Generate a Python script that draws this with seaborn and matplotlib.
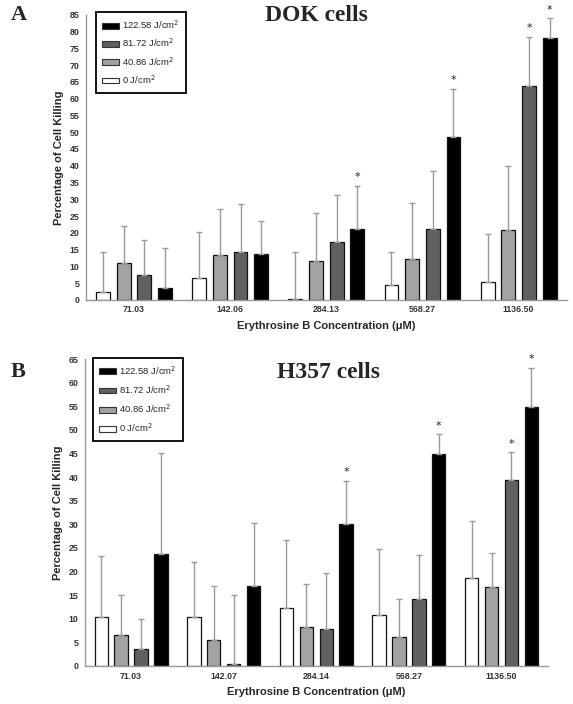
import pandas as pd
import matplotlib
matplotlib.use('Agg')
import matplotlib.pyplot as plt
import matplotlib.patches as mpatches
import seaborn as sns

# Dose levels (hue), in drawing order
doses = ['0 J/cm$^2$', '40.86 J/cm$^2$', '81.72 J/cm$^2$', '122.58 J/cm$^2$']
dose_colors = ['#ffffff', '#a2a2a6', '#606062', '#000000']

# Panel A - DOK cells
dok_conc = ['71.03', '142.06', '284.13', '568.27', '1136.50']
dok_mean = {
    '0 J/cm$^2$':      [2.4, 6.6, 0.2, 4.4, 5.3],
    '40.86 J/cm$^2$':  [10.9, 13.5, 11.5, 12.1, 20.7],
    '81.72 J/cm$^2$':  [7.3, 14.2, 17.2, 21.2, 63.9],
    '122.58 J/cm$^2$': [3.5, 13.6, 21.0, 48.6, 78.2],
}
dok_upper = {
    '0 J/cm$^2$':      [14.4, 20.1, 14.2, 14.3, 19.7],
    '40.86 J/cm$^2$':  [21.9, 27.0, 25.9, 28.9, 39.9],
    '81.72 J/cm$^2$':  [18.0, 28.6, 31.3, 38.5, 78.5],
    '122.58 J/cm$^2$': [15.6, 23.5, 34.1, 63.0, 83.9],
}
dok_star = {
    '0 J/cm$^2$':      [0, 0, 0, 0, 0],
    '40.86 J/cm$^2$':  [0, 0, 0, 0, 0],
    '81.72 J/cm$^2$':  [0, 0, 0, 0, 1],
    '122.58 J/cm$^2$': [0, 0, 1, 1, 1],
}

# Panel B - H357 cells
h357_conc = ['71.03', '142.07', '284.14', '568.27', '1136.50']
h357_mean = {
    '0 J/cm$^2$':      [10.4, 10.4, 12.3, 10.7, 18.7],
    '40.86 J/cm$^2$':  [6.5, 5.6, 8.3, 6.1, 16.8],
    '81.72 J/cm$^2$':  [3.7, 0.35, 7.85, 14.2, 39.4],
    '122.58 J/cm$^2$': [23.8, 17.0, 30.1, 44.8, 54.9],
}
h357_upper = {
    '0 J/cm$^2$':      [23.3, 22.1, 26.7, 24.8, 30.6],
    '40.86 J/cm$^2$':  [15.1, 17.0, 17.4, 14.2, 24.0],
    '81.72 J/cm$^2$':  [10.0, 15.1, 19.7, 23.4, 45.3],
    '122.58 J/cm$^2$': [45.1, 30.2, 39.2, 49.1, 63.2],
}
h357_star = {
    '0 J/cm$^2$':      [0, 0, 0, 0, 0],
    '40.86 J/cm$^2$':  [0, 0, 0, 0, 0],
    '81.72 J/cm$^2$':  [0, 0, 0, 0, 1],
    '122.58 J/cm$^2$': [0, 0, 1, 1, 1],
}

SANS = 'Liberation Sans'
SERIF = 'Liberation Serif'


def to_frame(conc, mean):
    rows = []
    for d in doses:
        for c, v in zip(conc, mean[d]):
            rows.append({'Concentration': c, 'Dose': d, 'Value': v})
    return pd.DataFrame(rows)


def draw_panel(ax, conc, mean, upper, star, ymax, legend_anchor, spacing):
    df = to_frame(conc, mean)
    sns.barplot(data=df, x='Concentration', y='Value', hue='Dose',
                order=conc, hue_order=doses,
                palette=dict(zip(doses, dose_colors)),
                width=0.86, gap=0.33, edgecolor='#111111', linewidth=0.9,
                errorbar=None, legend=False, ax=ax)

    # upper-only error bars and significance stars
    for d, container in zip(doses, ax.containers):
        xs = [b.get_x() + b.get_width() / 2 for b in container]
        ys = [b.get_height() for b in container]
        errs = [u - m for u, m in zip(upper[d], ys)]
        ax.errorbar(xs, ys, yerr=[[0] * len(ys), errs], fmt='none',
                    ecolor='#9a9a9a', elinewidth=1.0, capsize=2.5,
                    capthick=1.0, zorder=1)
        for x, u, s in zip(xs, upper[d], star[d]):
            if s:
                ax.annotate('*', (x, u), xytext=(0, 2.5), textcoords='offset points',
                            ha='center', va='bottom', fontsize=8, color='#222222')

    ax.set_xlim(-0.5, len(conc) - 0.5)
    ax.set_ylim(0, ymax)
    ax.set_yticks(range(0, ymax + 1, 5))
    ax.set_xlabel('Erythrosine B Concentration (μM)', fontsize=8,
                  fontweight='bold', family=SANS, labelpad=5)
    ax.set_ylabel('Percentage of Cell Killing', fontsize=8,
                  fontweight='bold', family=SANS, labelpad=4)
    for lab in ax.get_xticklabels() + ax.get_yticklabels():
        lab.set_fontsize(6.3)
        lab.set_fontweight('bold')
        lab.set_family(SANS)
        lab.set_color('#333333')
    ax.tick_params(axis='y', length=3, width=0.8, color='#888888', pad=1.5)
    ax.tick_params(axis='x', length=0, pad=4)
    for side in ['top', 'right']:
        ax.spines[side].set_visible(False)
    for side in ['left', 'bottom']:
        ax.spines[side].set_color('#999999')
        ax.spines[side].set_linewidth(1.0)

    handles = [mpatches.Patch(facecolor=c, edgecolor='#333333', linewidth=0.8, label=d)
               for d, c in zip(doses, dose_colors)][::-1]
    leg = ax.legend(handles=handles, loc='upper left', bbox_to_anchor=legend_anchor,
                    borderaxespad=0, fancybox=False, framealpha=1,
                    edgecolor='black', handlelength=1.8, handleheight=0.55,
                    handletextpad=0.3, labelspacing=spacing, borderpad=0.7,
                    prop={'family': SANS, 'size': 6.8})
    leg.get_frame().set_linewidth(1.3)


sns.set_style('white')
fig = plt.figure(figsize=(5.73, 7.04), dpi=100)
ax1 = fig.add_axes([0.150, 0.574, 0.839, 0.405])
ax2 = fig.add_axes([0.148, 0.054, 0.808, 0.436])

draw_panel(ax1, dok_conc, dok_mean, dok_upper, dok_star, 85, (0.02, 1.01), 0.6)
draw_panel(ax2, h357_conc, h357_mean, h357_upper, h357_star, 65, (0.017, 1.005), 0.7)

fig.text(0.552, 0.978, 'DOK cells', ha='center', va='center', fontsize=17,
         fontweight='bold', family=SERIF)
fig.text(0.573, 0.471, 'H357 cells', ha='center', va='center', fontsize=17,
         fontweight='bold', family=SERIF)
fig.text(0.033, 0.978, 'A', ha='center', va='center', fontsize=16,
         fontweight='bold', family=SERIF)
fig.text(0.031, 0.471, 'B', ha='center', va='center', fontsize=16,
         fontweight='bold', family=SERIF)

fig.savefig('out.png', dpi=100)
